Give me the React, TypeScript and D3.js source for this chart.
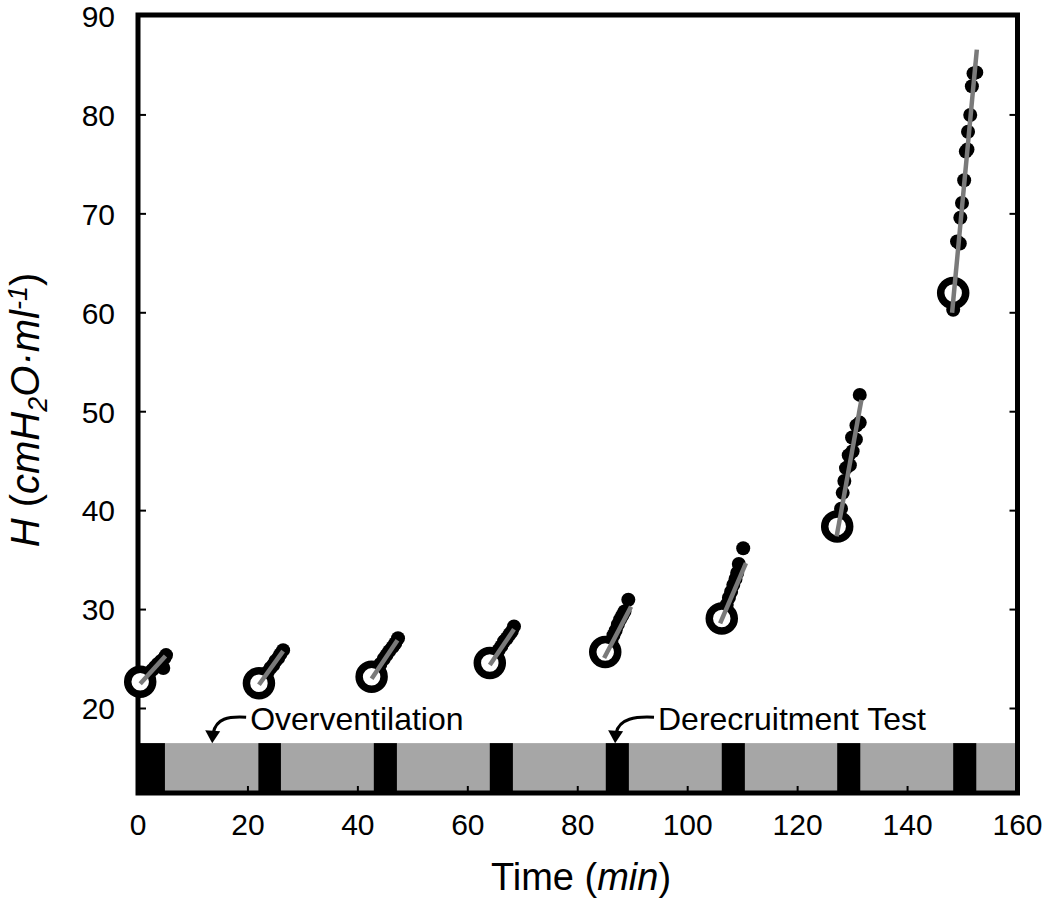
import React from 'react';
import * as d3 from 'd3';

// time (min) / H (cmH2O/ml)
const xTicks = [0, 20, 40, 60, 80, 100, 120, 140, 160];
const yTicks = [20, 30, 40, 50, 60, 70, 80, 90];

// derecruitment test windows (black blocks in the protocol bar)
const testStart = [0, 21.9, 42.9, 64.0, 85.1, 106.2, 127.2, 148.3];
const testEnd = [4.9, 26.0, 47.1, 68.2, 89.3, 110.4, 131.4, 152.5];

// first point of each test (open circle)
const firstPts: [number, number][] = [
  [0.4, 22.7], [22.0, 22.55], [42.5, 23.2], [64.0, 24.6],
  [85.0, 25.7], [106.2, 29.1], [127.2, 38.4], [148.3, 62.0],
];

// remaining points of each test
const test1: [number, number][] = [[1.0, 23.0], [1.5, 23.3], [2.0, 23.6], [2.6, 23.9], [3.1, 24.2], [3.6, 24.5], [4.2, 24.8], [4.6, 24.1], [4.8, 25.1], [5.1, 25.4]];
const test2: [number, number][] = [[22.6, 22.9], [23.1, 23.3], [23.6, 23.7], [24.1, 24.1], [24.6, 24.4], [25.0, 24.8], [25.5, 25.1], [25.9, 25.5], [26.4, 25.9]];
const test3: [number, number][] = [[43.1, 23.6], [43.6, 24.1], [44.1, 24.5], [44.7, 25.0], [45.2, 25.4], [45.7, 25.8], [46.3, 26.2], [46.8, 26.6], [47.3, 27.1]];
const test4: [number, number][] = [[64.6, 25.0], [65.1, 25.5], [65.6, 25.9], [66.1, 26.3], [66.6, 26.8], [67.1, 27.1], [67.6, 27.5], [68.0, 27.8], [68.4, 28.3]];
const test5: [number, number][] = [[85.6, 26.2], [86.1, 26.8], [86.5, 27.4], [86.9, 27.9], [87.3, 28.5], [87.7, 29.0], [88.1, 29.4], [88.5, 29.8], [89.2, 31.0]];
const test6: [number, number][] = [[106.7, 29.8], [107.1, 30.5], [107.5, 31.2], [107.9, 31.8], [108.3, 32.5], [108.7, 33.1], [109.0, 33.7], [109.3, 34.6], [110.1, 36.2]];
const test7: [number, number][] = [[127.9, 40.2], [128.2, 41.8], [128.5, 43.0], [128.8, 44.3], [129.5, 44.6], [129.3, 45.6], [130.0, 46.0], [129.9, 47.4], [130.6, 47.2], [130.7, 48.6], [131.3, 48.9], [131.3, 51.7]];
const test8: [number, number][] = [[148.3, 60.3], [149.0, 67.2], [149.5, 67.0], [149.6, 69.6], [149.9, 71.1], [150.3, 73.4], [150.6, 76.3], [150.9, 76.5], [151.0, 78.3], [151.4, 80.0], [151.7, 82.9], [152.0, 84.2], [152.5, 84.3]];
const tests = [test1, test2, test3, test4, test5, test6, test7, test8];

// fitted lines [t0, h0, t1, h1]
const fits = [
  [0.4, 22.5, 5.0, 25.3], [22.0, 22.4, 26.4, 25.8], [42.5, 23.0, 47.2, 26.9], [64.0, 24.4, 68.4, 28.0],
  [84.8, 25.1, 89.7, 30.3], [105.9, 28.6, 110.6, 34.7], [127.1, 37.4, 131.6, 51.2], [148.1, 60.0, 152.6, 86.6],
];

// annotations: label, arrow tip time, text start time
const notes = [
  { label: 'Overventilation', tip: 13.5, text: 20.4 },
  { label: 'Derecruitment Test', tip: 86.8, text: 94.6 },
];

const FONT = '"Liberation Sans", Arial, sans-serif';

export default function App() {
  const x = d3.scaleLinear().domain([0, 160]).range([138, 1017.5]);
  const y = d3.scaleLinear().domain([20, 90]).range([708.5, 16]);
  const left = 138, right = 1017.5, top = 15, bottom = 793;
  const barTop = y(16.5);
  const noteY = y(17.8);

  return (
    <svg width={1050} height={904} style={{ position: 'absolute', left: 0, top: 0, background: '#fff' }}
      fontFamily={FONT}>
      {/* protocol bar */}
      <rect x={left} y={barTop} width={right - left} height={bottom - barTop} fill="#a6a6a6" />
      {testStart.map((s, i) => (
        <rect key={i} x={x(s)} y={barTop} width={x(testEnd[i]) - x(s)} height={bottom - barTop} fill="#000" />
      ))}

      {/* ticks */}
      {yTicks.map(t => (
        <g key={t}>
          <line x1={left} x2={left + 8} y1={y(t)} y2={y(t)} stroke="#000" strokeWidth={2} />
          <line x1={right - 8} x2={right} y1={y(t)} y2={y(t)} stroke="#000" strokeWidth={2} />
          <text x={115} y={y(t)} dy="0.36em" textAnchor="end" fontSize={30}>{t}</text>
        </g>
      ))}
      {xTicks.map(t => (
        <g key={t}>
          <line x1={x(t)} x2={x(t)} y1={bottom} y2={bottom - 7} stroke="#000" strokeWidth={2} />
          <text x={x(t)} y={835} textAnchor="middle" fontSize={30}>{t}</text>
        </g>
      ))}

      {/* frame */}
      <rect x={left} y={top} width={right - left} height={bottom - top} fill="none" stroke="#000" strokeWidth={5} />

      {/* annotations */}
      {notes.map(n => {
        const tx = x(n.tip), sx = x(n.text) - 4;
        const ay = noteY - 13;
        return (
          <g key={n.label}>
            <path d={`M${sx},${ay} C${sx - 18},${ay - 1} ${tx + 4},${ay + 1} ${tx + 1},${barTop - 10}`}
              fill="none" stroke="#000" strokeWidth={3} />
            <path d={`M${tx - 7},${barTop - 13} L${tx + 8},${barTop - 12} L${tx},${barTop} Z`} fill="#000" />
            <text x={x(n.text)} y={noteY} fontSize={32}>{n.label}</text>
          </g>
        );
      })}

      {/* data */}
      {tests.map((pts, i) => (
        <g key={i}>
          {pts.map((p, j) => (
            <circle key={j} cx={x(p[0])} cy={y(p[1])} r={7} fill="#000" />
          ))}
          <circle cx={x(firstPts[i][0])} cy={y(firstPts[i][1])} r={12.5} fill="#fff" stroke="#000" strokeWidth={7.5} />
          <line x1={x(fits[i][0])} y1={y(fits[i][1])} x2={x(fits[i][2])} y2={y(fits[i][3])}
            stroke="#7a7a7a" strokeWidth={4.5} />
        </g>
      ))}

      {/* axis titles */}
      <text x={581} y={890} textAnchor="middle" fontSize={38}>
        Time (<tspan fontStyle="italic">min</tspan>)
      </text>
      <text transform={`translate(39,410) rotate(-90)`} textAnchor="middle" fontSize={40}>
        <tspan fontStyle="italic">H</tspan> (<tspan fontStyle="italic">cmH</tspan>
        <tspan fontSize={27} dy={8} fontStyle="italic">2</tspan>
        <tspan dy={-8} fontStyle="italic">O·ml</tspan>
        <tspan fontSize={27} dy={-12} fontStyle="italic">-1</tspan>
        <tspan dy={12}>)</tspan>
      </text>
    </svg>
  );
}
